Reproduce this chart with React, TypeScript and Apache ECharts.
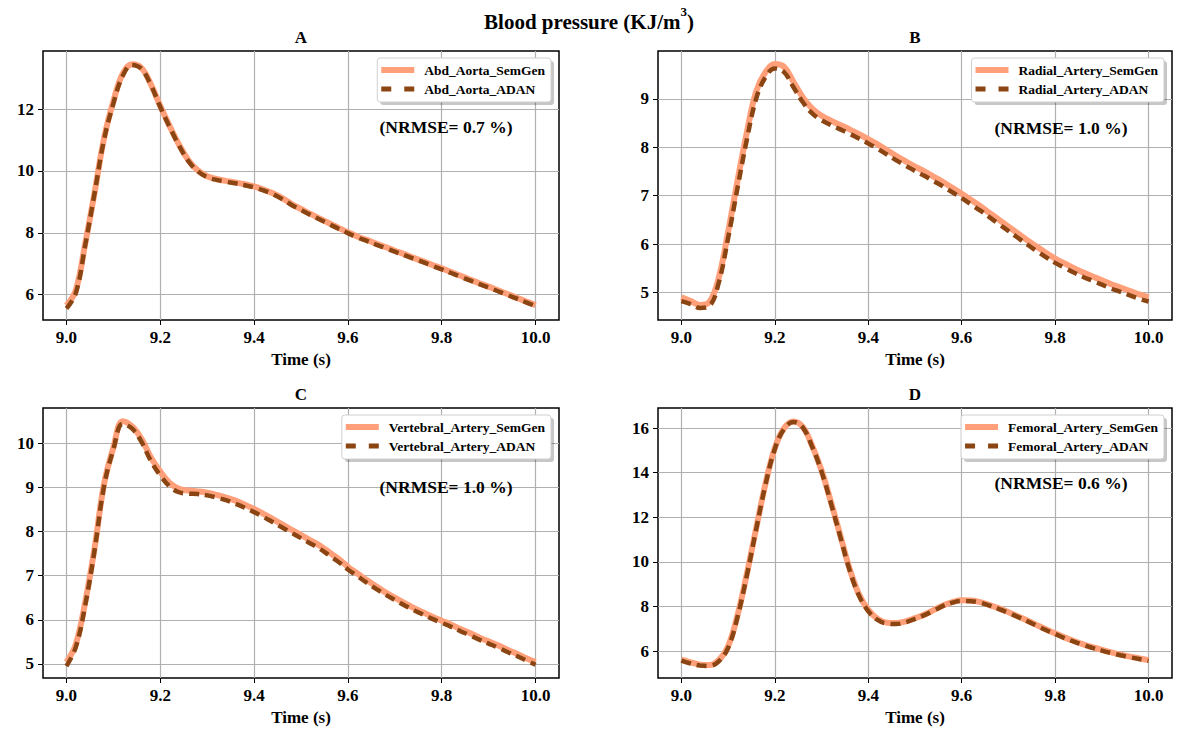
import React, { useEffect, useRef } from "react";
import * as echarts from "echarts";

// ---- data ----
const time = [
  9.0, 9.02, 9.04, 9.06, 9.08, 9.1, 9.12, 9.14, 9.16, 9.18, 9.2,
  9.22, 9.24, 9.26, 9.28, 9.3, 9.32, 9.34, 9.36, 9.38, 9.4,
  9.42, 9.44, 9.46, 9.48, 9.5, 9.52, 9.54, 9.56, 9.58, 9.6,
  9.62, 9.64, 9.66, 9.68, 9.7, 9.72, 9.74, 9.76, 9.78, 9.8,
  9.82, 9.84, 9.86, 9.88, 9.9, 9.92, 9.94, 9.96, 9.98, 10.0,
];

const aortaSemGen = [
  5.65, 6.15, 7.65, 9.3, 11.05, 12.25, 13.15, 13.45, 13.33, 12.8, 12.1,
  11.45, 10.85, 10.35, 10.02, 9.83, 9.74, 9.68, 9.63, 9.57, 9.5,
  9.4, 9.28, 9.12, 8.93, 8.77, 8.61, 8.46, 8.31, 8.16, 8.02,
  7.88, 7.77, 7.65, 7.54, 7.42, 7.31, 7.19, 7.08, 6.96, 6.85,
  6.73, 6.61, 6.49, 6.37, 6.26, 6.14, 6.02, 5.9, 5.78, 5.66,
];
const aortaAdan = [
  5.55, 6.05, 7.6, 9.28, 11.0, 12.18, 13.08, 13.43, 13.3, 12.78, 12.07,
  11.42, 10.82, 10.32, 9.99, 9.8, 9.71, 9.65, 9.6, 9.54, 9.47,
  9.37, 9.25, 9.09, 8.9, 8.74, 8.58, 8.43, 8.28, 8.13, 7.99,
  7.85, 7.74, 7.62, 7.51, 7.39, 7.28, 7.16, 7.05, 6.93, 6.82,
  6.7, 6.58, 6.46, 6.34, 6.23, 6.11, 5.99, 5.87, 5.75, 5.63,
];

const radialSemGen = [
  4.9, 4.82, 4.74, 4.8, 5.3, 6.25, 7.3, 8.3, 9.15, 9.55, 9.72,
  9.66, 9.35, 9.03, 8.8, 8.65, 8.55, 8.46, 8.37, 8.27, 8.17,
  8.06, 7.94, 7.82, 7.71, 7.6, 7.5, 7.39, 7.28, 7.16, 7.04,
  6.91, 6.78, 6.64, 6.5, 6.36, 6.22, 6.08, 5.95, 5.82, 5.7,
  5.6, 5.5, 5.41, 5.33, 5.25, 5.17, 5.1, 5.03, 4.96, 4.9,
];
const radialAdan = [
  4.82, 4.76, 4.68, 4.72, 5.2, 6.12, 7.15, 8.15, 9.0, 9.45, 9.63,
  9.55, 9.24, 8.93, 8.7, 8.56, 8.46, 8.37, 8.28, 8.18, 8.08,
  7.97, 7.85, 7.73, 7.62, 7.51, 7.41, 7.3, 7.19, 7.07, 6.95,
  6.82, 6.69, 6.55, 6.41, 6.27, 6.13, 5.99, 5.86, 5.73, 5.61,
  5.51, 5.41, 5.32, 5.24, 5.16, 5.08, 5.01, 4.94, 4.87, 4.81,
];

const vertebralSemGen = [
  5.04, 5.45, 6.4, 7.63, 9.07, 9.9, 10.5, 10.38, 10.1, 9.68, 9.36,
  9.1, 8.97, 8.93, 8.91, 8.88, 8.83, 8.77, 8.7, 8.61, 8.51,
  8.4, 8.28, 8.16, 8.04, 7.92, 7.8, 7.68, 7.53, 7.38, 7.2,
  7.05, 6.9, 6.76, 6.62, 6.5, 6.38, 6.27, 6.17, 6.07, 5.98,
  5.89, 5.79, 5.7, 5.6, 5.51, 5.42, 5.32, 5.23, 5.13, 5.04,
];
const vertebralAdan = [
  4.95, 5.38, 6.33, 7.58, 9.02, 9.86, 10.44, 10.33, 10.03, 9.6, 9.27,
  9.02, 8.89, 8.86, 8.85, 8.82, 8.77, 8.71, 8.63, 8.54, 8.44,
  8.33, 8.21, 8.09, 7.97, 7.85, 7.73, 7.61, 7.46, 7.31, 7.14,
  6.99, 6.84, 6.7, 6.57, 6.45, 6.33, 6.22, 6.12, 6.02, 5.93,
  5.84, 5.74, 5.65, 5.55, 5.46, 5.37, 5.27, 5.18, 5.08, 4.98,
];

const femoralSemGen = [
  5.62, 5.5, 5.4, 5.38, 5.6, 6.22, 7.6, 9.45, 11.5, 13.5, 15.1,
  16.0, 16.3, 16.05, 15.2, 14.1, 12.7, 11.2, 9.7, 8.55, 7.85,
  7.45, 7.28, 7.26, 7.34, 7.48, 7.64, 7.84, 8.05, 8.2, 8.28,
  8.27, 8.2, 8.07, 7.92, 7.75, 7.57, 7.38, 7.18, 6.98, 6.8,
  6.62, 6.46, 6.31, 6.18, 6.06, 5.95, 5.85, 5.76, 5.68, 5.6,
];
const femoralAdan = [
  5.58, 5.45, 5.36, 5.34, 5.55, 6.15, 7.52, 9.38, 11.45, 13.46, 15.06,
  15.97, 16.27, 16.02, 15.16, 14.05, 12.64, 11.14, 9.64, 8.5, 7.8,
  7.4, 7.24, 7.22, 7.3, 7.45, 7.62, 7.82, 8.03, 8.18, 8.25,
  8.24, 8.17, 8.04, 7.89, 7.72, 7.54, 7.35, 7.15, 6.95, 6.77,
  6.59, 6.43, 6.28, 6.15, 6.03, 5.92, 5.82, 5.73, 5.65, 5.57,
];

const xTicks = [9.0, 9.2, 9.4, 9.6, 9.8, 10.0];
const yTicksA = [6, 8, 10, 12];
const yTicksB = [5, 6, 7, 8, 9];
const yTicksC = [5, 6, 7, 8, 9, 10];
const yTicksD = [6, 8, 10, 12, 14, 16];

const legendNames = [
  ["Abd_Aorta_SemGen", "Abd_Aorta_ADAN"],
  ["Radial_Artery_SemGen", "Radial_Artery_ADAN"],
  ["Vertebral_Artery_SemGen", "Vertebral_Artery_ADAN"],
  ["Femoral_Artery_SemGen", "Femoral_Artery_ADAN"],
];
const panelTitles = ["A", "B", "C", "D"];
const nrmseTexts = ["(NRMSE= 0.7 %)", "(NRMSE= 1.0 %)", "(NRMSE= 1.0 %)", "(NRMSE= 0.6 %)"];

// ---- styling / layout ----
const FONT = "'Liberation Serif', 'Times New Roman', Times, serif";
const SALMON = "#FFA07A";
const BROWN = "#8B4513";
const DASH = [10, 6];

const panels = [
  { grid: { left: 43, top: 51, width: 516, height: 269 }, yMin: 5.18, yMax: 13.88, yTicks: yTicksA, semgen: aortaSemGen, adan: aortaAdan, nrmseY: 127 },
  { grid: { left: 658, top: 51, width: 514, height: 269 }, yMin: 4.43, yMax: 9.99, yTicks: yTicksB, semgen: radialSemGen, adan: radialAdan, nrmseY: 128 },
  { grid: { left: 43, top: 408, width: 516, height: 270 }, yMin: 4.68, yMax: 10.8, yTicks: yTicksC, semgen: vertebralSemGen, adan: vertebralAdan, nrmseY: 487 },
  { grid: { left: 658, top: 408, width: 514, height: 270 }, yMin: 4.8, yMax: 16.9, yTicks: yTicksD, semgen: femoralSemGen, adan: femoralAdan, nrmseY: 483 },
];

function measure(text: string, font: string): number {
  const c = document.createElement("canvas").getContext("2d");
  if (!c) return text.length * 7;
  c.font = font;
  return c.measureText(text).width;
}

function buildOption() {
  const grids: any[] = [];
  const xAxes: any[] = [];
  const yAxes: any[] = [];
  const series: any[] = [];
  const graphics: any[] = [];
  const legendFont = `bold 13.5px ${FONT}`;

  panels.forEach((p, i) => {
    grids.push({
      left: p.grid.left,
      top: p.grid.top,
      width: p.grid.width,
      height: p.grid.height,
      show: true,
      borderColor: "#000",
      borderWidth: 1.5,
      containLabel: false,
    });
    xAxes.push({
      type: "value",
      gridIndex: i,
      min: 8.95,
      max: 10.05,
      name: "Time (s)",
      nameLocation: "middle",
      nameGap: 31,
      nameTextStyle: { fontFamily: FONT, fontWeight: "bold", fontSize: 17, color: "#000" },
      axisLine: { show: false },
      axisTick: { show: true, customValues: xTicks, length: 5, lineStyle: { color: "#000", width: 1 } },
      axisLabel: {
        customValues: xTicks,
        formatter: (v: number) => v.toFixed(1),
        margin: 9,
        fontFamily: FONT,
        fontWeight: "bold",
        fontSize: 17,
        color: "#000",
      },
      splitLine: { show: true, lineStyle: { color: "#b0b0b0", width: 1.2 } },
    });
    yAxes.push({
      type: "value",
      gridIndex: i,
      min: p.yMin,
      max: p.yMax,
      axisLine: { show: false },
      axisTick: { show: true, customValues: p.yTicks, length: 5, lineStyle: { color: "#000", width: 1 } },
      axisLabel: {
        customValues: p.yTicks,
        margin: 9,
        fontFamily: FONT,
        fontWeight: "bold",
        fontSize: 17,
        color: "#000",
      },
      splitLine: { show: true, lineStyle: { color: "#b0b0b0", width: 1.2 } },
    });
    series.push({
      type: "line",
      name: legendNames[i][0],
      xAxisIndex: i,
      yAxisIndex: i,
      data: time.map((t, k) => [t, p.semgen[k]]),
      showSymbol: false,
      symbol: "none",
      smooth: 0.4,
      lineStyle: { color: SALMON, width: 6 },
      z: 2,
    });
    series.push({
      type: "line",
      name: legendNames[i][1],
      xAxisIndex: i,
      yAxisIndex: i,
      data: time.map((t, k) => [t, p.adan[k]]),
      showSymbol: false,
      symbol: "none",
      smooth: 0.4,
      lineStyle: { color: BROWN, width: 4.5, type: DASH, cap: "butt" },
      z: 3,
    });

    const gRight = p.grid.left + p.grid.width;
    const cx = p.grid.left + p.grid.width / 2;

    // subplot title
    graphics.push({
      type: "text",
      x: cx,
      y: p.grid.top - 14,
      style: { text: panelTitles[i], font: `bold 17px ${FONT}`, fill: "#000", textAlign: "center", textVerticalAlign: "middle" },
    });
    // NRMSE annotation
    graphics.push({
      type: "text",
      x: p.grid.left + 403,
      y: p.nrmseY,
      z: 50,
      style: { text: nrmseTexts[i], font: `bold 17.5px ${FONT}`, fill: "#000", textAlign: "center", textVerticalAlign: "middle" },
    });

    // legend
    const tw = Math.max(measure(legendNames[i][0], legendFont), measure(legendNames[i][1], legendFont));
    const boxRight = gRight - 8;
    const textLeft = boxRight - 6 - tw;
    const boxLeft = textLeft - 10 - 33 - 4;
    const boxTop = p.grid.top + 7;
    const boxH = 44;
    const r1 = boxTop + 12;
    const r2 = boxTop + 31;
    graphics.push({
      type: "rect",
      z: 90,
      shape: { x: boxLeft + 3, y: boxTop + 3, width: boxRight - boxLeft, height: boxH, r: 3 },
      style: { fill: "rgba(0,0,0,0.22)" },
    });
    graphics.push({
      type: "rect",
      z: 91,
      shape: { x: boxLeft, y: boxTop, width: boxRight - boxLeft, height: boxH, r: 3 },
      style: { fill: "#fff", stroke: "#d0d0d0", lineWidth: 1 },
    });
    graphics.push({
      type: "line",
      z: 92,
      shape: { x1: textLeft - 43, y1: r1, x2: textLeft - 10, y2: r1 },
      style: { stroke: SALMON, lineWidth: 6 },
    });
    graphics.push({
      type: "line",
      z: 92,
      shape: { x1: textLeft - 43, y1: r2, x2: textLeft - 10, y2: r2 },
      style: { stroke: BROWN, lineWidth: 5, lineDash: [10, 13] },
    });
    graphics.push({
      type: "text",
      z: 93,
      x: textLeft,
      y: r1,
      style: { text: legendNames[i][0], font: legendFont, fill: "#000", textAlign: "left", textVerticalAlign: "middle" },
    });
    graphics.push({
      type: "text",
      z: 93,
      x: textLeft,
      y: r2,
      style: { text: legendNames[i][1], font: legendFont, fill: "#000", textAlign: "left", textVerticalAlign: "middle" },
    });
  });

  return {
    animation: false,
    backgroundColor: "#fff",
    title: {
      text: "{a|Blood pressure (KJ/m}{s|3}{a|)}",
      left: "center",
      top: 5,
      padding: 0,
      textStyle: {
        rich: {
          a: { fontFamily: FONT, fontWeight: "bold", fontSize: 21, lineHeight: 34, color: "#000" },
          s: { fontFamily: FONT, fontWeight: "bold", fontSize: 13, lineHeight: 13, verticalAlign: "top", color: "#000" },
        },
      },
    },
    grid: grids,
    xAxis: xAxes,
    yAxis: yAxes,
    series,
    graphic: graphics,
  };
}

export default function App() {
  const ref = useRef<HTMLDivElement>(null);
  useEffect(() => {
    if (!ref.current) return;
    const chart = echarts.init(ref.current, undefined, { renderer: "svg" });
    chart.setOption(buildOption() as any);
    return () => chart.dispose();
  }, []);
  return (
    <div
      ref={ref}
      style={{ position: "absolute", left: 0, top: 0, width: 1178, height: 730, background: "#fff" }}
    />
  );
}
